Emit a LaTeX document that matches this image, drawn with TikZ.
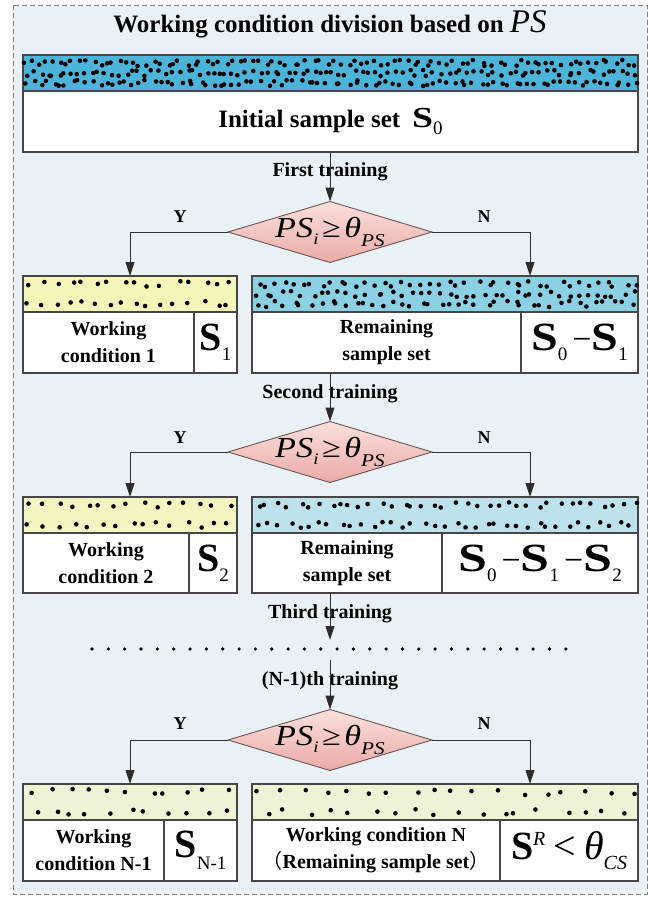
\documentclass[tikz,border=0pt]{standalone}
\usepackage{graphicx}
\usepackage{fontspec}
\setmainfont{Liberation Serif}
\newfontfamily\cjkfont{Noto Sans CJK SC}
\usetikzlibrary{shapes.geometric,arrows.meta}

\definecolor{bgpanel}{RGB}{233,241,244}
\definecolor{framegray}{RGB}{125,125,125}
\definecolor{boxline}{RGB}{70,70,70}
\definecolor{topblue}{RGB}{75,180,216}
\definecolor{blueA}{RGB}{140,208,228}
\definecolor{blueB}{RGB}{190,226,237}
\definecolor{yellowA}{RGB}{244,245,185}
\definecolor{yellowB}{RGB}{243,245,192}
\definecolor{paleGreen}{RGB}{238,243,214}
\definecolor{diaTop}{RGB}{250,224,220}
\definecolor{diaBot}{RGB}{234,170,166}
\definecolor{diaLine}{RGB}{105,85,85}
\definecolor{flowline}{RGB}{45,45,45}

% font size shortcut (px = pt here)
\newcommand\fsz[1]{\fontsize{#1}{#1}\selectfont}
% bold S with an upright subscript: [stretch of S] size of S, size of sub, sub text, drop
\newcommand\Ssub[5][1]{\scalebox{#1}[1]{\fsz{#2}\bfseries S}\raisebox{-#5pt}{\fsz{#3}\mdseries\upshape #4}}
% the decision test PS_i >= theta_PS
\newcommand\testexpr{\scalebox{1.18}[1]{{\fsz{29}\itshape PS}\raisebox{-7pt}{\fsz{16}\itshape i}\hspace{3pt}{\fsz{29}≥}\hspace{3pt}{\fsz{29}\itshape θ}\raisebox{-9pt}{\fsz{18}\itshape PS}}}
% sample dots in a bar, on a jittered grid:
% x0, y0, width, height, columns, rows, seed, horizontal jitter
\newcommand\sampledots[8]{%
  \pgfmathsetseed{#7}%
  \pgfmathsetmacro\colstep{#3/#5}%
  \pgfmathsetmacro\rowstep{(#4-16)/max(#6-1,1)}%
  \foreach \i in {1,...,#5}{%
    \foreach \j in {1,...,#6}{%
      \fill ({#1+(\i-0.5)*\colstep+#8*(rnd-0.5)},
             {#2+8+(\j-1)*\rowstep+6*(rnd-0.5)}) circle (2.3);
    }%
  }%
}

\tikzset{
  bar/.style={draw=boxline, line width=1.3pt, inner sep=0pt, outer sep=0pt, anchor=north west},
  cell/.style={draw=boxline, line width=1.3pt, fill=white, inner sep=0pt, outer sep=0pt,
    anchor=north west, align=center, font=\fontsize{20}{27}\selectfont\bfseries},
  mathcell/.style={draw=boxline, line width=1.3pt, fill=white, inner sep=0pt, outer sep=0pt,
    anchor=north west, align=center},
  decision/.style={diamond, draw=diaLine, line width=0.9pt, top color=diaTop, bottom color=diaBot,
    minimum width=204pt, minimum height=61pt, inner sep=0pt, outer sep=0pt},
  lbl/.style={font=\fontsize{20}{20}\selectfont\bfseries, inner sep=0pt, anchor=base},
  yn/.style={font=\fontsize{18}{18}\selectfont\bfseries, inner sep=0pt, anchor=base},
  arr/.style={draw=flowline, line width=1pt, -{Triangle[length=14pt,width=9pt]}}
}

\begin{document}
\begin{tikzpicture}[x=1pt,y=-1pt]
\useasboundingbox (0,0) rectangle (660,897);

% panel
\path[fill=bgpanel, draw=framegray, line width=1pt, dash pattern=on 5pt off 3pt] (13,5) rectangle (647,894);

\node[anchor=base, inner sep=0pt] (title) at (330,32)
  {\fsz{25}\bfseries Working condition division based on {\fsz{33}\mdseries\itshape PS}};

% initial sample set
\node[bar, fill=topblue, minimum width=615pt, minimum height=36pt] (s0bar) at (23,55) {};
\sampledots{23}{55}{615}{36}{92}{3}{7}{7}
\node[mathcell, minimum width=615pt, minimum height=61pt] (s0cell) at (23,91)
  {{\fsz{25}\bfseries Initial sample set}\hspace{12pt}\Ssub[1.3]{29}{19}{0}{7}};

% first decision
\node[decision] (d1) at (330,232) {};
\node[anchor=base, inner sep=0pt] (d1m) at ([yshift=-5pt]d1.center) {\testexpr};
\node[yn] (y1) at (180,222) {Y};
\node[yn] (n1) at (484,222) {N};

% row 1
\node[bar, fill=yellowA, minimum width=214pt, minimum height=36pt] (w1bar) at (23,276) {};
\sampledots{23}{276}{214}{36}{16}{2}{11}{10}
\node[cell, minimum width=171pt, minimum height=61pt] (w1cell) at (23,312) {Working\\condition 1};
\node[mathcell, minimum width=43pt, minimum height=61pt] (w1math) at (194,312) {\Ssub{40}{19}{1}{10}};

\node[bar, fill=blueA, minimum width=386pt, minimum height=36pt] (r1bar) at (252,276) {};
\sampledots{252}{276}{386}{36}{42}{3}{23}{9}
\node[cell, minimum width=269pt, minimum height=61pt] (r1cell) at (252,312) {Remaining\\sample set};
\node[mathcell, minimum width=117pt, minimum height=61pt] (r1math) at (521,312)
  {\Ssub[1.2]{40}{19}{0}{10}\hspace{5pt}{\fsz{34}−}\Ssub[1.2]{40}{19}{1}{10}};

% second decision
\node[decision] (d2) at (330,452) {};
\node[anchor=base, inner sep=0pt] (d2m) at ([yshift=-5pt]d2.center) {\testexpr};
\node[yn] (y2) at (180,443) {Y};
\node[yn] (n2) at (484,443) {N};

% row 2
\node[bar, fill=yellowB, minimum width=214pt, minimum height=36pt] (w2bar) at (23,497) {};
\sampledots{23}{497}{214}{36}{15}{2}{31}{10}
\node[cell, minimum width=166pt, minimum height=60pt] (w2cell) at (23,533) {Working\\condition 2};
\node[mathcell, minimum width=48pt, minimum height=60pt] (w2math) at (189,533) {\Ssub{40}{19}{2}{10}};

\node[bar, fill=blueB, minimum width=386pt, minimum height=36pt] (r2bar) at (252,497) {};
\sampledots{252}{497}{386}{36}{37}{2}{41}{9}
\node[cell, minimum width=190pt, minimum height=60pt] (r2cell) at (252,533) {Remaining\\sample set};
\node[mathcell, minimum width=196pt, minimum height=60pt] (r2math) at (442,533)
  {\Ssub[1.3]{40}{19}{0}{10}\hspace{5pt}{\fsz{34}−}\Ssub[1.3]{40}{19}{1}{10}\hspace{5pt}{\fsz{34}−}\Ssub[1.3]{40}{19}{2}{10}};

% skipped iterations
\coordinate (gapTop) at (330,640);
\coordinate (gapBot) at (330,660);
\foreach \k in {0,...,29}{\fill ({92+16.34*\k},649) circle (1.8);}

% last decision
\node[decision] (d3) at (330,740) {};
\node[anchor=base, inner sep=0pt] (d3m) at ([yshift=-5pt]d3.center) {\testexpr};
\node[yn] (y3) at (180,729) {Y};
\node[yn] (n3) at (484,729) {N};

% row 3
\node[bar, fill=paleGreen, minimum width=214pt, minimum height=36pt] (w3bar) at (23,784) {};
\sampledots{23}{784}{214}{36}{11}{2}{53}{14}
\node[cell, minimum width=141pt, minimum height=61pt] (w3cell) at (23,820) {Working\\condition N-1};
\node[mathcell, minimum width=73pt, minimum height=61pt] (w3math) at (164,820) {\Ssub{40}{19}{N-1}{12}};

\node[bar, fill=paleGreen, minimum width=386pt, minimum height=36pt] (r3bar) at (252,784) {};
\sampledots{252}{784}{386}{36}{18}{2}{67}{16}
\node[cell, minimum width=248pt, minimum height=61pt] (r3cell) at (252,820)
  {Working condition N\\{\cjkfont\mdseries （}Remaining sample set{\cjkfont\mdseries ）}};
\node[mathcell, minimum width=138pt, minimum height=61pt] (r3math) at (500,820)
  {{\fsz{40}\bfseries S}\raisebox{14pt}{\fsz{20}\itshape R}\hspace{8pt}{\fsz{40}<}\hspace{8pt}{\fsz{40}\itshape θ}\raisebox{-10pt}{\fsz{20}\itshape CS}};

% training labels
\node[lbl] (t1) at (330,176) {First training};
\node[lbl] (t2) at (330,398) {Second training};
\node[lbl] (t3) at (330,618) {Third training};
\node[lbl] (t4) at (330,685) {(N-1)th training};

% connectors
\draw[arr] (d1.north |- s0cell.south) -- (d1.north);
\draw[arr] (d1.west) -| (w1bar.north);
\draw[arr] (d1.east) -| ([xshift=85pt]r1bar.north);
\draw[arr] (d2.north |- r1cell.south) -- (d2.north);
\draw[arr] (d2.west) -| (w2bar.north);
\draw[arr] (d2.east) -| ([xshift=85pt]r2bar.north);
\draw[arr] (d2.north |- r2cell.south) -- (gapTop);
\draw[arr] (gapBot) -- (d3.north);
\draw[arr] (d3.west) -| (w3bar.north);
\draw[arr] (d3.east) -| ([xshift=85pt]r3bar.north);
\end{tikzpicture}
\end{document}
